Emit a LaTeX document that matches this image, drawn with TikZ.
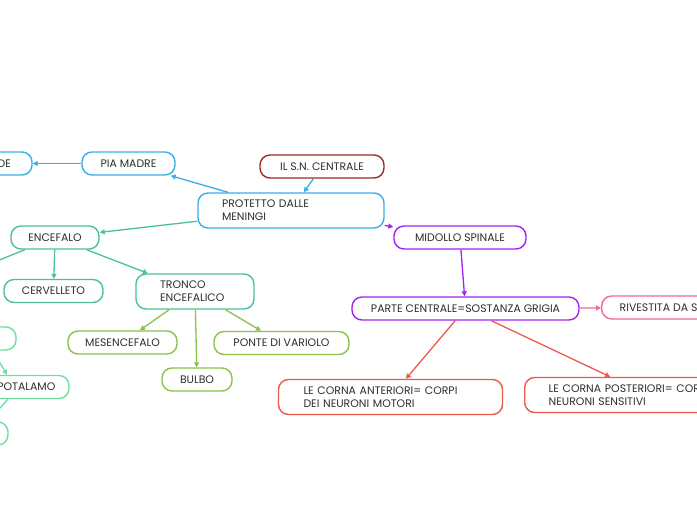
\documentclass[tikz,border=0pt]{standalone}
\usepackage{fontspec}
\setmainfont{Poppins}
\usetikzlibrary{arrows.meta,calc}
\definecolor{cblue}{HTML}{3AAEEA}
\definecolor{cdred}{HTML}{9E2A2B}
\definecolor{cteal}{HTML}{4CBF9B}
\definecolor{clgreen}{HTML}{6BE0A0}
\definecolor{cgreen}{HTML}{8BC34A}
\definecolor{cpurple}{HTML}{A023F2}
\definecolor{cpink}{HTML}{F06A98}
\definecolor{cred}{HTML}{EB5A4C}
\definecolor{ctext}{HTML}{2E2E2E}
\tikzset{
  box/.style={draw, rounded corners=10pt, line width=1.4pt, fill=white, text=ctext,
     font=\fontsize{10.9}{13}\selectfont, minimum height=23pt, inner ysep=0pt},
  tbox/.style={box, align=left, inner xsep=24pt, minimum height=35pt},
  conn/.style={line width=1.3pt, -{Triangle[length=5pt,width=5pt]}},
  plain/.style={line width=1.3pt},
}
\begin{document}
\begin{tikzpicture}[x=1pt,y=-1pt]
\useasboundingbox (0,0) rectangle (697,520);
\fill[white] (0,0) rectangle (697,520);
\begin{scope}
\clip (0,0) rectangle (697,520);
% nodes
\node[box, draw=cblue, minimum width=104pt] (arac) at (-20,163.5) {ARACNOIDE};
\node[box, draw=cblue, minimum width=93pt] (pia) at (128.5,163.5) {PIA MADRE};
\node[box, draw=cdred, minimum width=124pt] (sn) at (322,166.5) {IL S.N. CENTRALE};
\node[tbox, draw=cblue, text width=138pt] (prot) at (291,210.5) {PROTETTO DALLE\\MENINGI};
\node[box, draw=cteal, minimum width=88pt] (enc) at (55,237.5) {ENCEFALO};
\node[box, draw=cteal, minimum width=99pt] (cerv) at (53.5,291) {CERVELLETO};
\node[tbox, draw=cteal, text width=70pt] (tronco) at (195,291.5) {TRONCO\\ENCEFALICO};
\node[box, draw=cgreen, minimum width=109pt] (mes) at (122.5,342.5) {MESENCEFALO};
\node[box, draw=cgreen, minimum width=70pt] (bulbo) at (197,379.5) {BULBO};
\node[box, draw=cgreen, minimum width=135pt] (ponte) at (281.5,343) {PONTE DI VARIOLO};
\node[box, draw=cpurple, minimum width=132pt] (mid) at (460,237.5) {MIDOLLO SPINALE};
\node[box, draw=cpurple, minimum width=227pt] (parte) at (465.5,308.5) {PARTE CENTRALE=SOSTANZA GRIGIA};
\node[box, draw=cpink, inner xsep=18pt, anchor=west] (riv) at (601,307.5) {RIVESTITA DA SOSTANZA BIANCA};
\node[tbox, draw=cred, text width=174pt, inner xsep=25pt] (ant) at (390.5,397) {LE CORNA ANTERIORI= CORPI\\DEI NEURONI MOTORI};
\node[tbox, draw=cred, text width=200pt, anchor=west] (post) at (524,395) {LE CORNA POSTERIORI= CORPI DEI\\NEURONI SENSITIVI};
\node[box, draw=clgreen, minimum width=80pt] (lg1) at (-24,338.5) {};
\node[box, draw=clgreen, minimum width=88pt] (ipot) at (25,387) {IPOTALAMO};
\node[box, draw=clgreen, minimum width=80pt] (lg2) at (-32,433.5) {};
\coordinate (offA) at (-45,278);
\coordinate (offB) at (-14,339);
\coordinate (offC) at (-20,430);
% connectors
\draw[conn, cblue] (prot) -- (pia);
\draw[conn, cblue] (pia) -- (arac);
\draw[conn, cblue] (sn) -- (prot);
\draw[conn, cteal] (prot) -- (enc);
\draw[conn, cpurple] (prot) -- (mid);
\draw[conn, cteal] (enc) -- (cerv);
\draw[conn, cteal] (enc) -- (tronco);
\draw[plain, cteal] (enc) -- (offA);
\draw[conn, cgreen] (tronco) -- (mes);
\draw[conn, cgreen] (tronco) -- (bulbo);
\draw[conn, cgreen] (tronco) -- (ponte);
\draw[conn, cpurple] (mid) -- (parte);
\draw[conn, cpink] (parte) -- (riv);
\draw[conn, cred] (parte) -- (ant);
\draw[conn, cred] (parte) -- (post);
\draw[conn, clgreen] (offB) -- ($(ipot.north)+(-18,0)$);
\draw[plain, clgreen] ($(ipot.south)+(-17,0)$) -- (offC);
\end{scope}
\end{tikzpicture}
\end{document}
